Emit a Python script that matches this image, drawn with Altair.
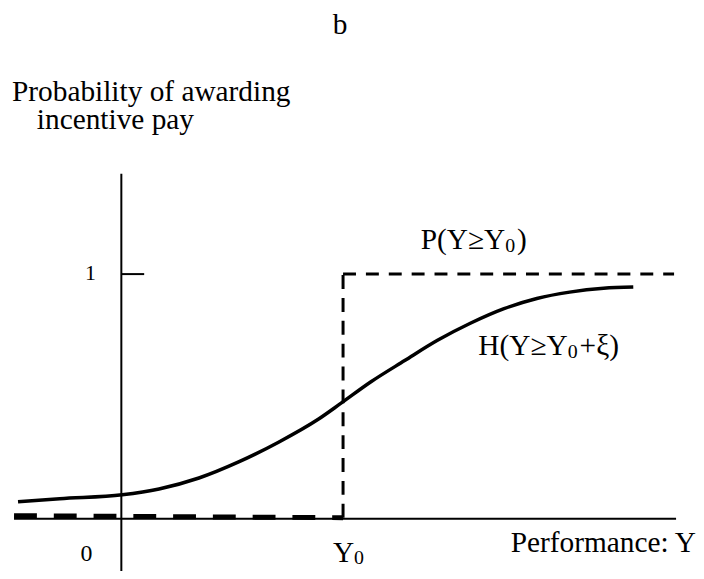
import altair as alt
import pandas as pd

# Smooth curve H(Y >= Y0 + xi): performance (Y0 = 1) vs probability
curve_x = [-0.466, -0.278, 0.004, 0.170, 0.350, 0.529, 0.709, 0.888, 0.991,
           1.126, 1.278, 1.426, 1.574, 1.726, 1.874, 2.022, 2.175, 2.309]
curve_p = [0.065, 0.078, 0.094, 0.118, 0.163, 0.229, 0.310, 0.404, 0.470,
           0.558, 0.645, 0.728, 0.798, 0.858, 0.900, 0.926, 0.942, 0.947]

# Step function P(Y >= Y0)
step_x = [-0.484, 1.0, 1.0, 2.493]
step_p = [0, 0, 1, 1]

# Axis frame lines (x, x2, y, y2)
frame_x = [0.0, -0.484, 0.0]
frame_x2 = [0.0, 2.502, 0.103]
frame_y = [-0.245, -0.004, 1.0]
frame_y2 = [1.412, -0.004, 1.0]

# Labels
lab_left_text = ["Probability of awarding", "incentive pay", "Y", "0",
                 "P(Y\u2265Y", "0", ")", "H(Y\u2265Y", "0", "+\u03be)"]
lab_left_x = [-0.493, -0.381, 0.955, 1.049, 1.350, 1.731, 1.785, 1.610, 2.013, 2.067]
lab_left_y = [1.710, 1.596, -0.180, -0.192, 1.102, 1.090, 1.102, 0.669, 0.657, 0.669]
lab_left_size = [29.5, 29.5, 29.5, 20, 29.5, 20, 29.5, 29.5, 20, 29.5]

lab_center_text = ["b", "1", "0"]
lab_center_x = [0.987, -0.139, -0.157]
lab_center_y = [1.985, 0.976, -0.176]
lab_center_size = [29.5, 22, 24]

lab_right_text = ["Performance: Y"]
lab_right_x = [2.592]
lab_right_y = [-0.139]
lab_right_size = [29.5]

FONT = "Liberation Serif, Times New Roman, serif"

xs = alt.Scale(domain=[-0.5112, 2.5919], nice=False, zero=False)
ys = alt.Scale(domain=[-0.2122, 2.0857], nice=False, zero=False)

curve_df = pd.DataFrame({"x": curve_x, "p": curve_p})
seg_df = pd.DataFrame({
    "seg": [0, 1, 2],
    "x": step_x[:-1], "x2": step_x[1:],
    "y": step_p[:-1], "y2": step_p[1:],
})
frame_df = pd.DataFrame({"x": frame_x, "x2": frame_x2, "y": frame_y, "y2": frame_y2})

def seg_layer(i, width, dash, yoff=0):
    return alt.Chart(seg_df).transform_filter(alt.datum.seg == i).mark_rule(
        color="black", strokeWidth=width, strokeDash=dash, yOffset=yoff
    ).encode(
        x=alt.X("x:Q", scale=xs, axis=None),
        x2="x2:Q",
        y=alt.Y("y:Q", scale=ys, axis=None),
        y2="y2:Q",
    )

frame = alt.Chart(frame_df).mark_rule(color="black", strokeWidth=2).encode(
    x=alt.X("x:Q", scale=xs, axis=None),
    x2="x2:Q",
    y=alt.Y("y:Q", scale=ys, axis=None),
    y2="y2:Q",
)

curve = alt.Chart(curve_df).mark_line(
    color="black", strokeWidth=3.5, interpolate="monotone"
).encode(
    x=alt.X("x:Q", scale=xs, axis=None),
    y=alt.Y("p:Q", scale=ys, axis=None),
)

def text_layer(texts, xv, yv, sizes, align):
    df = pd.DataFrame({"t": texts, "x": xv, "y": yv, "s": sizes})
    return alt.Chart(df).mark_text(
        font=FONT, color="black", align=align, baseline="alphabetic"
    ).encode(
        x=alt.X("x:Q", scale=xs, axis=None),
        y=alt.Y("y:Q", scale=ys, axis=None),
        text="t:N",
        size=alt.Size("s:Q", scale=None, legend=None),
    )

chart = alt.layer(
    frame,
    seg_layer(0, 5, [23, 17], -2),
    seg_layer(1, 3, [14, 9]),
    seg_layer(2, 3, [13, 10]),
    curve,
    text_layer(lab_left_text, lab_left_x, lab_left_y, lab_left_size, "left"),
    text_layer(lab_center_text, lab_center_x, lab_center_y, lab_center_size, "center"),
    text_layer(lab_right_text, lab_right_x, lab_right_y, lab_right_size, "right"),
).properties(
    width=692, height=563, padding=0, autosize=alt.AutoSizeParams(type="none"),
    background="white",
).configure_view(stroke=None)

chart.save("out.html", embed_options={"renderer": "svg", "actions": False})
